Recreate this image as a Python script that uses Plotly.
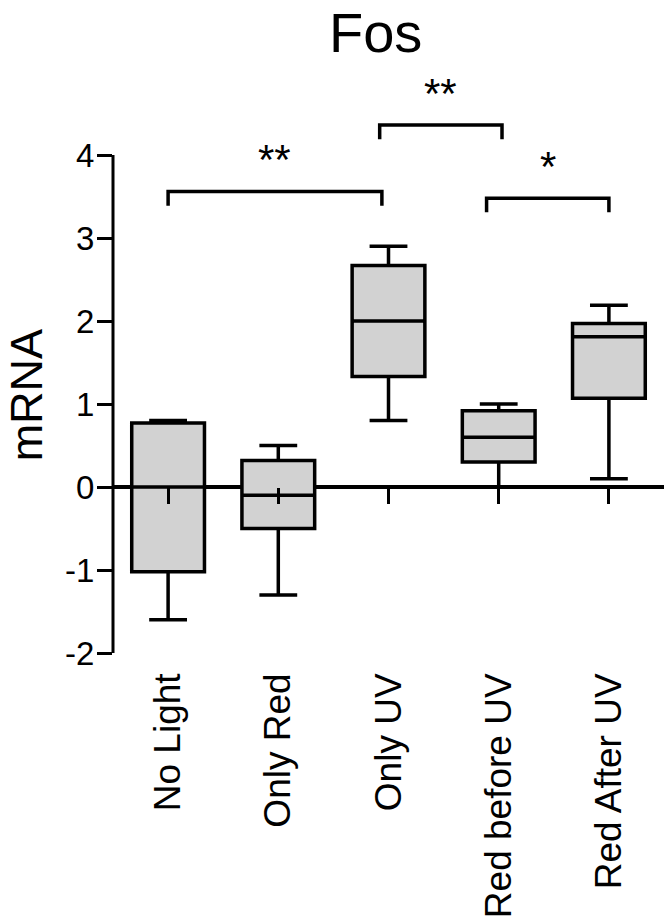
import plotly.graph_objects as go

# ---- data ----
categories = ["No Light", "Only Red", "Only UV", "Red before UV", "Red After UV"]
lower_whisker = [-1.6, -1.3, 0.8, 0.0, 0.1]
q1 = [-1.02, -0.5, 1.33, 0.3, 1.07]
median = [0.0, -0.1, 2.0, 0.6, 1.81]
q3 = [0.77, 0.32, 2.67, 0.92, 1.97]
upper_whisker = [0.8, 0.5, 2.9, 1.0, 2.19]

# significance comparisons (group index pairs), label and bracket height
comp_pairs = [(0, 2), (2, 3), (3, 4)]
comp_labels = ["**", "**", "*"]
comp_heights = [3.56, 4.36, 3.48]

y_ticks = [-2, -1, 0, 1, 2, 3, 4]
y_ticktext = ["-2", "-1", "0", "1", "2", "3", "4"]

# ---- style ----
FONT = "Arial, Liberation Sans, Helvetica, sans-serif"
bracket_nudge = [(0.0, -0.06), (-0.08, 0.03), (-0.11, 0.0)]
bracket_drop = 0.17
star_gap = 0.38
y_range = [-2.0, 5.0]

xs = list(range(len(categories)))

fig = go.Figure()
fig.add_trace(go.Box(
    x=xs, q1=q1, median=median, q3=q3,
    lowerfence=lower_whisker, upperfence=upper_whisker,
    width=0.66, whiskerwidth=0.52, boxpoints=False,
    fillcolor="rgb(210,210,210)",
    line=dict(color="black", width=3.5),
    showlegend=False, hoverinfo="skip",
))

# invisible trace carrying the zero-line tick axis
fig.add_trace(go.Scatter(
    x=xs, y=median, xaxis="x2", mode="markers",
    marker=dict(opacity=0), hoverinfo="skip", showlegend=False,
))

annotations = []
for (a, b), lab, h, (na, nb) in zip(comp_pairs, comp_labels, comp_heights, bracket_nudge):
    xa, xb = a + na, b + nb
    fig.add_trace(go.Scatter(
        x=[xa, xa, xb, xb], y=[h - bracket_drop, h, h, h - bracket_drop],
        mode="lines", line=dict(color="black", width=3.5),
        hoverinfo="skip", showlegend=False,
    ))
    annotations.append(dict(
        x=(xa + xb) / 2, y=h + star_gap, xref="x", yref="y",
        text=lab, showarrow=False, yanchor="middle",
        font=dict(family=FONT, size=42, color="black"),
    ))

annotations.append(dict(
    x=-0.157, y=1.11, xref="paper", yref="y", text="mRNA",
    textangle=-90, showarrow=False, xanchor="center", yanchor="middle",
    font=dict(family=FONT, size=45, color="black"),
))

# title as an annotation anchored above the plot area
annotations.append(dict(
    x=0.4755, y=1, xref="paper", yref="paper", text="Fos",
    showarrow=False, xanchor="center", yanchor="bottom", yshift=6,
    font=dict(family=FONT, size=56, color="black"),
))

shapes = [dict(
    type="line", xref="paper", yref="y", x0=0, x1=0,
    y0=min(y_ticks), y1=max(y_ticks),
    line=dict(color="black", width=3),
)]

fig.update_layout(
    template="none",
    width=666, height=920,
    margin=dict(l=113, r=2, t=72, b=267, autoexpand=False),
    paper_bgcolor="white", plot_bgcolor="white",
    xaxis=dict(range=[-0.5, len(categories) - 0.5], tickvals=xs, ticktext=categories,
               tickangle=-90, ticks="", showline=False, showgrid=False, zeroline=False,
               automargin=False, ticklabelstandoff=12,
               tickfont=dict(family=FONT, size=37, color="black")),
    xaxis2=dict(overlaying="x", anchor="free",
                position=(0 - y_range[0]) / (y_range[1] - y_range[0]),
                range=[-0.5, len(categories) - 0.5], tickvals=xs,
                showticklabels=False, ticks="outside", ticklen=16, tickwidth=3,
                tickcolor="black", showline=False, showgrid=False, zeroline=False,
                automargin=False),
    yaxis=dict(range=y_range, tickvals=y_ticks, ticktext=y_ticktext,
               ticks="outside", ticklen=15,
               tickwidth=3, tickcolor="black", showline=False, showgrid=False,
               zeroline=True, zerolinecolor="black", zerolinewidth=3.5,
               automargin=False, ticklabelstandoff=-4,
               tickfont=dict(family=FONT, size=33, color="black")),
    annotations=annotations,
    shapes=shapes,
)

fig.write_html("out.html", config={"displayModeBar": False},
               post_script="document.body.style.margin='0';")
